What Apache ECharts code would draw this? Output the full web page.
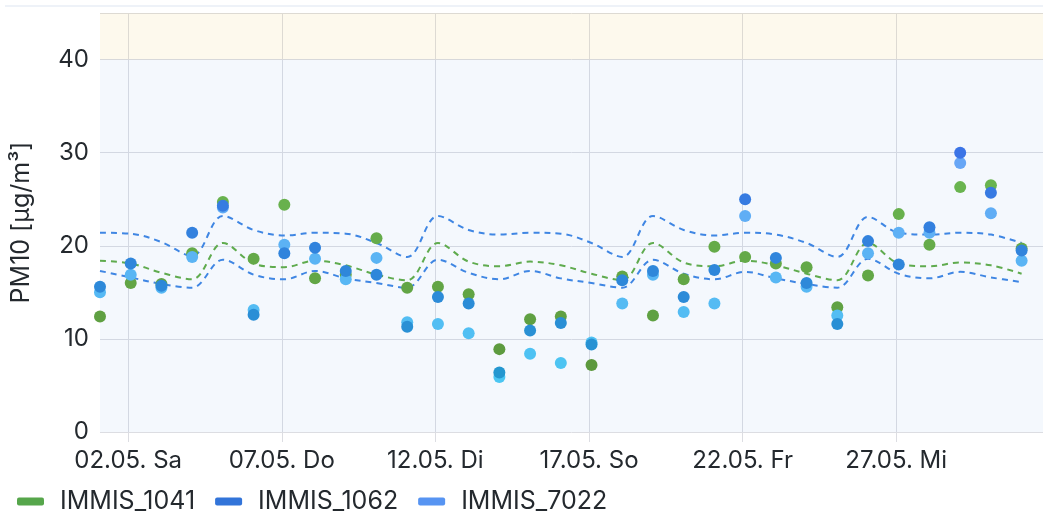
<!DOCTYPE html>
<html>
<head>
<meta charset="utf-8">
<script src="https://cdn.jsdelivr.net/npm/echarts@6/dist/echarts.min.js"></script>
<style>
  html, body { margin: 0; padding: 0; background: #ffffff; }
  #chart { width: 1043px; height: 513px; }
</style>
</head>
<body>
<div id="chart"></div>
<script>
// Day of month for each daily value (May)
const days = [1,2,3,4,5,6,7,8,9,10,11,12,13,14,15,16,17,18,19,20,21,22,23,24,25,26,27,28,29,30,31];
const hourOfReading = 2;

// Measured PM10 daily values
const immis1041 = [12.4,16.0,15.9,19.2,24.7,18.6,24.4,16.5,16.9,20.8,15.5,15.6,14.8,8.9,12.1,12.4,7.2,16.7,12.5,16.4,19.9,18.8,18.1,17.7,13.4,16.8,23.4,20.1,26.3,26.5,19.7];
const immis1062 = [15.6,18.1,15.7,21.4,24.3,12.6,19.2,19.8,17.3,16.9,11.3,14.5,13.8,6.4,10.9,11.7,9.4,16.3,17.3,14.5,17.4,25.0,18.7,16.0,11.6,20.5,18.0,22.0,30.0,25.7,19.5];
const immis7022 = [15.0,16.9,15.5,18.8,24.1,13.1,20.1,18.6,16.4,18.7,11.8,11.6,10.6,5.9,8.4,7.4,9.6,13.8,16.9,12.9,13.8,23.2,16.6,15.6,12.5,19.2,21.4,21.4,28.9,23.5,18.4];

// Dashed reference curves
const upperBand = [21.4,21.3,20.4,18.9,23.2,21.7,21.1,21.4,21.3,20.3,18.8,23.2,21.7,21.2,21.4,21.3,20.3,18.8,23.2,21.7,21.1,21.4,21.2,20.3,18.8,23.1,21.4,21.2,21.4,21.2,20.3];
const middleCurve = [18.4,18.1,17.1,16.4,20.3,18.1,17.7,18.4,17.9,16.9,16.3,20.3,18.3,17.8,18.3,17.9,17.0,16.3,20.3,18.2,17.8,18.4,17.9,17.0,16.3,20.3,18.1,17.8,18.2,17.9,17.0];
const lowerBand = [17.3,16.6,15.9,15.5,18.5,16.9,16.4,17.3,16.5,16.0,15.5,18.5,17.1,16.4,17.3,16.5,16.0,15.5,18.5,17.0,16.4,17.2,16.5,15.9,15.5,18.6,17.0,16.5,17.2,16.6,16.1];

// X tick days and labels
const tickDays = [2,7,12,17,22,27];
const tickLabels = ['02.05. Sa','07.05. Do','12.05. Di','17.05. So','22.05. Fr','27.05. Mi'];

const seriesNames = ['IMMIS_1041','IMMIS_1062','IMMIS_7022'];

const toHours = d => (d - 1) * 24;
const pts = arr => days.map((d, i) => [toHours(d) + hourOfReading, arr[i]]);
const tickVals = tickDays.map(toHours);

const FONT = 'Inter, "Noto Sans", sans-serif';
const GRID = '#dcdde2';
const TEXT = '#24292e';

const chart = echarts.init(document.getElementById('chart'), null, { renderer: 'canvas' });

const dashLine = (name, data, color) => ({
  name, type: 'line', data: pts(data), smooth: 0.35, symbol: 'none', silent: true,
  lineStyle: { color, width: 2, type: [6, 5] }, z: 1
});

const scatter = (name, data, color, z) => ({
  name, type: 'scatter', data: pts(data), symbolSize: 12, z,
  itemStyle: { color, opacity: 1 }
});

const option = {
  animation: false,
  textStyle: { fontFamily: FONT },
  grid: { left: 100, right: 0, top: 13, bottom: 81, containLabel: false },
  legend: {
    data: seriesNames,
    left: 12, top: 484,
    icon: 'roundRect', itemWidth: 27, itemHeight: 8, itemGap: 20,
    textStyle: { fontFamily: FONT, fontSize: 25, color: TEXT, padding: [0, 0, 0, 11] }
  },
  visualMap: [
    { show: false, type: 'continuous', seriesIndex: 3, dimension: 1, min: 5, max: 30, inRange: { color: ['#5a963b', '#6cb952'] } },
    { show: false, type: 'continuous', seriesIndex: 5, dimension: 1, min: 5, max: 30, inRange: { color: ['#2399cf', '#3b74e6'] } },
    { show: false, type: 'continuous', seriesIndex: 4, dimension: 1, min: 5, max: 30, inRange: { color: ['#4ac7f2', '#68a4f6'] } }
  ],
  graphic: [
    { type: 'line', shape: { x1: 5, y1: 6, x2: 1043, y2: 6 }, style: { stroke: '#eef2f8', lineWidth: 2 }, silent: true }
  ],
  xAxis: {
    type: 'value',
    min: toHours(1) + hourOfReading,
    max: toHours(1) + hourOfReading + 736.7,
    axisLine: { show: false },
    axisTick: { show: true, customValues: tickVals, length: 10, lineStyle: { color: GRID } },
    axisLabel: {
      customValues: tickVals, margin: 17, fontSize: 24, color: TEXT, fontFamily: FONT,
      formatter: v => tickLabels[tickVals.indexOf(v)] || ''
    },
    splitLine: { show: true, lineStyle: { color: GRID, width: 1 } }
  },
  yAxis: {
    type: 'value', min: 0, max: 45, interval: 10,
    name: 'PM10 [µg/m³]', nameLocation: 'middle', nameGap: 66, nameRotate: 90,
    nameTextStyle: { fontSize: 25, color: TEXT, fontFamily: FONT },
    axisLine: { show: false }, axisTick: { show: false },
    axisLabel: { margin: 11, fontSize: 24, color: TEXT, fontFamily: FONT, showMaxLabel: false },
    splitLine: { show: true, lineStyle: { color: GRID, width: 1 } }
  },
  series: [
    Object.assign(dashLine('upper', upperBand, '#3f86e3'), {
      markArea: {
        silent: true,
        data: [
          [{ yAxis: 40, itemStyle: { color: 'rgba(240,200,80,0.1)' } }, { yAxis: 45 }],
          [{ yAxis: 0, itemStyle: { color: 'rgba(100,150,230,0.07)' } }, { yAxis: 40 }]
        ]
      }
    }),
    dashLine('middle', middleCurve, '#5fab4e'),
    dashLine('lower', lowerBand, '#3f86e3'),
    scatter(seriesNames[0], immis1041, '#56A64B', 3),
    scatter(seriesNames[2], immis7022, '#5794F2', 4),
    scatter(seriesNames[1], immis1062, '#3274D9', 5)
  ]
};

chart.setOption(option);
</script>
</body>
</html>
